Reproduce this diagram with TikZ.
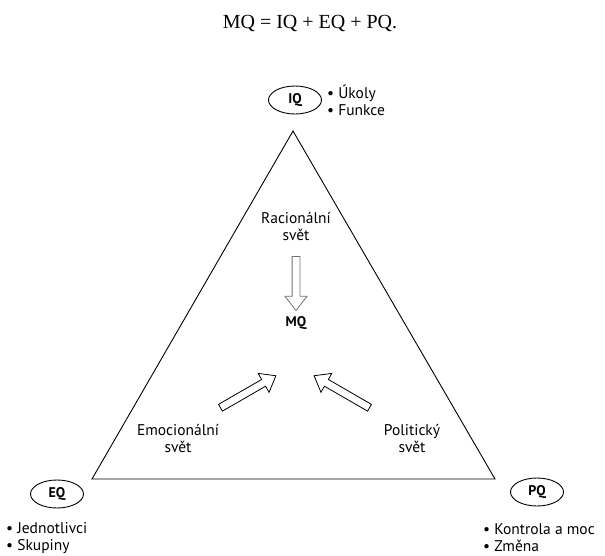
\documentclass[tikz,border=0pt]{standalone}
\usepackage{fontspec}
\setmainfont{Liberation Serif}
\setsansfont{PT Sans}
\usetikzlibrary{shapes.geometric,shapes.arrows}
\begin{document}
\begin{tikzpicture}
  [x=1pt,y=-1pt,every node/.style={font=\sffamily\fontsize{15.5}{17}\selectfont},
   q/.style={ellipse,draw,line width=0.9pt,minimum width=53pt,minimum height=28pt,inner sep=0pt,
     font=\sffamily\bfseries\fontsize{14}{15}\selectfont},
   list/.style={align=left,anchor=west,inner sep=0pt},
   world/.style={align=center,inner sep=0pt},
   push/.style={single arrow,draw,fill=white,line width=0.8pt,minimum height=54pt,inner sep=3.5pt,
     single arrow head extend=7pt,single arrow tip angle=75}]
  \useasboundingbox (0,0) rectangle (605,555);

  \node (formula) at (310,23) {\rmfamily\fontsize{20}{24}\selectfont MQ = IQ + EQ + PQ.};

  \coordinate (top) at (293,131);
  \coordinate (left) at (92,479);
  \coordinate (right) at (495,479);
  \draw[line width=0.9pt] (top) -- (left) -- (right) -- cycle;

  \node[q] (iq) at (295,100) {IQ};
  \node[q] (eq) at (57,494) {EQ};
  \node[q] (pq) at (537,492) {PQ};

  \node[list] (iqlist) at (327,100) {\textbullet\ Úkoly\\\textbullet\ Funkce};
  \node[list] (eqlist) at (6,538) {\textbullet\ Jednotlivci\\\textbullet\ Skupiny};
  \node[list] (pqlist) at (483,538) {\textbullet\ Kontrola a moc\\\textbullet\ Změna};

  \node[world] (rational) at (296,227) {Racionální\\svět};
  \node[world] (emotional) at (178,439) {Emocionální\\svět};
  \node[world] (political) at (412,439) {Politický\\svět};

  \node[font=\sffamily\bfseries\fontsize{14}{15}\selectfont] (mq) at (296,323) {MQ};

  \node[push,draw=black!55,rotate=-90] (down) at (296,281) {};
  \node[push,minimum height=64pt,rotate=30] (upright) at (246,393) {};
  \node[push,minimum height=64pt,rotate=150] (upleft) at (344,393) {};

\end{tikzpicture}
\end{document}
